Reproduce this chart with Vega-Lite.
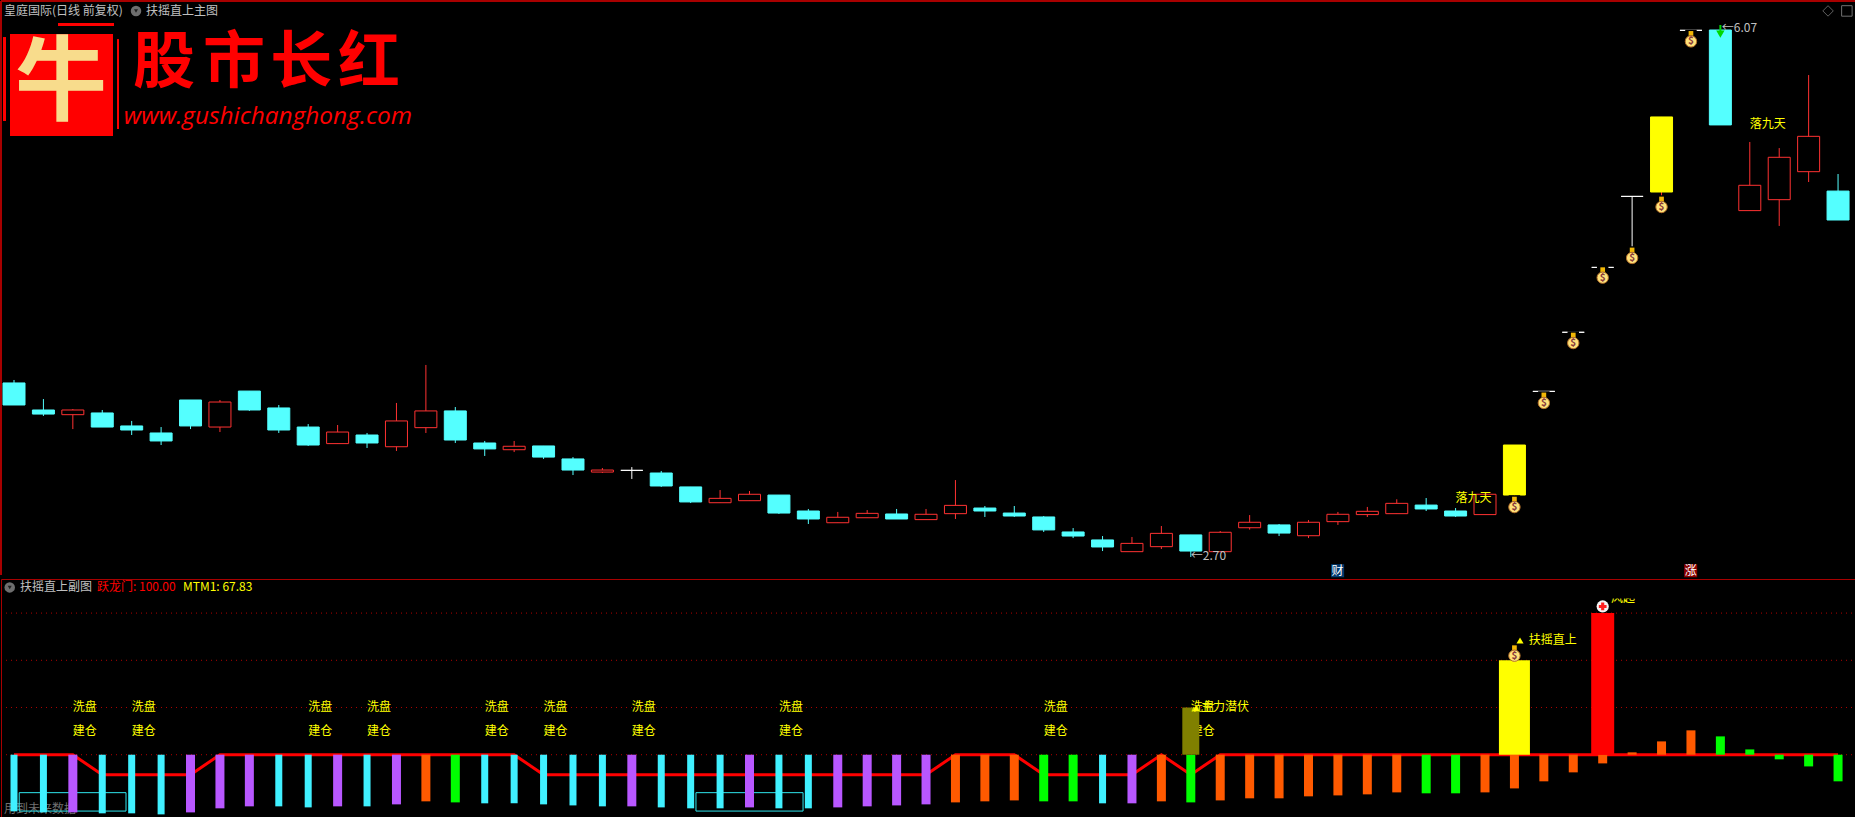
{"$schema":"https://vega.github.io/schema/vega-lite/v6.json","background":"#000000","padding":{"left":0,"right":0,"top":0,"bottom":0},"autosize":{"type":"pad","contains":"padding"},"spacing":0,"config":{"padding":0,"concat":{"spacing":0},"view":{"stroke":"#a80000","strokeWidth":1},"text":{"font":"Noto Sans CJK SC","fontSize":12}},
"datasets":{
"candles":[
{"k":0,"high":3.832,"top":3.813,"bottom":3.672,"low":3.672,"kind":"down"},
{"k":1,"high":3.710,"top":3.640,"bottom":3.614,"low":3.602,"kind":"down"},
{"k":2,"high":3.646,"top":3.640,"bottom":3.610,"low":3.518,"kind":"up"},
{"k":3,"high":3.640,"top":3.621,"bottom":3.531,"low":3.531,"kind":"down"},
{"k":4,"high":3.570,"top":3.538,"bottom":3.512,"low":3.480,"kind":"down"},
{"k":5,"high":3.531,"top":3.493,"bottom":3.442,"low":3.416,"kind":"down"},
{"k":6,"high":3.704,"top":3.704,"bottom":3.538,"low":3.518,"kind":"down"},
{"k":7,"high":3.704,"top":3.691,"bottom":3.531,"low":3.499,"kind":"up"},
{"k":8,"high":3.761,"top":3.761,"bottom":3.640,"low":3.634,"kind":"down"},
{"k":9,"high":3.672,"top":3.653,"bottom":3.512,"low":3.493,"kind":"down"},
{"k":10,"high":3.550,"top":3.531,"bottom":3.416,"low":3.410,"kind":"down"},
{"k":11,"high":3.544,"top":3.499,"bottom":3.425,"low":3.425,"kind":"up"},
{"k":12,"high":3.493,"top":3.480,"bottom":3.429,"low":3.397,"kind":"down"},
{"k":13,"high":3.685,"top":3.570,"bottom":3.405,"low":3.378,"kind":"up"},
{"k":14,"high":3.928,"top":3.634,"bottom":3.527,"low":3.493,"kind":"up"},
{"k":15,"high":3.659,"top":3.634,"bottom":3.448,"low":3.429,"kind":"down"},
{"k":16,"high":3.442,"top":3.429,"bottom":3.391,"low":3.346,"kind":"down"},
{"k":17,"high":3.442,"top":3.408,"bottom":3.386,"low":3.371,"kind":"up"},
{"k":18,"high":3.410,"top":3.410,"bottom":3.339,"low":3.327,"kind":"down"},
{"k":19,"high":3.339,"top":3.327,"bottom":3.256,"low":3.224,"kind":"down"},
{"k":20,"high":3.269,"top":3.256,"bottom":3.243,"low":3.237,"kind":"up"},
{"k":21,"high":3.275,"top":3.254,"bottom":3.254,"low":3.199,"kind":"doji"},
{"k":22,"high":3.250,"top":3.237,"bottom":3.154,"low":3.148,"kind":"down"},
{"k":23,"high":3.148,"top":3.148,"bottom":3.052,"low":3.045,"kind":"down"},
{"k":24,"high":3.128,"top":3.075,"bottom":3.047,"low":3.047,"kind":"up"},
{"k":25,"high":3.122,"top":3.101,"bottom":3.060,"low":3.060,"kind":"up"},
{"k":26,"high":3.096,"top":3.096,"bottom":2.981,"low":2.975,"kind":"down"},
{"k":27,"high":3.007,"top":2.994,"bottom":2.943,"low":2.911,"kind":"down"},
{"k":28,"high":2.988,"top":2.954,"bottom":2.919,"low":2.919,"kind":"up"},
{"k":29,"high":3.000,"top":2.979,"bottom":2.951,"low":2.951,"kind":"up"},
{"k":30,"high":3.007,"top":2.975,"bottom":2.943,"low":2.943,"kind":"down"},
{"k":31,"high":3.007,"top":2.973,"bottom":2.939,"low":2.939,"kind":"up"},
{"k":32,"high":3.192,"top":3.030,"bottom":2.977,"low":2.943,"kind":"up"},
{"k":33,"high":3.026,"top":3.013,"bottom":2.994,"low":2.956,"kind":"down"},
{"k":34,"high":3.026,"top":2.981,"bottom":2.962,"low":2.956,"kind":"down"},
{"k":35,"high":2.962,"top":2.956,"bottom":2.873,"low":2.860,"kind":"down"},
{"k":36,"high":2.885,"top":2.860,"bottom":2.834,"low":2.821,"kind":"down"},
{"k":37,"high":2.834,"top":2.809,"bottom":2.764,"low":2.738,"kind":"down"},
{"k":38,"high":2.828,"top":2.787,"bottom":2.734,"low":2.734,"kind":"up"},
{"k":39,"high":2.898,"top":2.851,"bottom":2.766,"low":2.751,"kind":"up"},
{"k":40,"high":2.841,"top":2.841,"bottom":2.738,"low":2.700,"kind":"down"},
{"k":41,"high":2.866,"top":2.858,"bottom":2.734,"low":2.734,"kind":"up"},
{"k":42,"high":2.968,"top":2.922,"bottom":2.887,"low":2.875,"kind":"up"},
{"k":43,"high":2.911,"top":2.905,"bottom":2.853,"low":2.834,"kind":"down"},
{"k":44,"high":2.936,"top":2.922,"bottom":2.836,"low":2.821,"kind":"up"},
{"k":45,"high":2.988,"top":2.973,"bottom":2.926,"low":2.905,"kind":"up"},
{"k":46,"high":3.020,"top":2.992,"bottom":2.971,"low":2.956,"kind":"up"},
{"k":47,"high":3.069,"top":3.043,"bottom":2.977,"low":2.977,"kind":"up"},
{"k":48,"high":3.077,"top":3.032,"bottom":3.007,"low":2.994,"kind":"down"},
{"k":49,"high":3.013,"top":2.994,"bottom":2.962,"low":2.956,"kind":"down"},
{"k":50,"high":3.101,"top":3.101,"bottom":2.971,"low":2.971,"kind":"up"},
{"k":51,"high":3.416,"top":3.416,"bottom":3.096,"low":3.079,"kind":"limit"},
{"k":52,"high":3.759,"top":3.759,"bottom":3.759,"low":3.759,"kind":"doji"},
{"k":53,"high":4.137,"top":4.137,"bottom":4.137,"low":4.137,"kind":"doji"},
{"k":54,"high":4.552,"top":4.552,"bottom":4.552,"low":4.552,"kind":"doji"},
{"k":55,"high":5.006,"top":5.006,"bottom":5.006,"low":4.667,"kind":"doji"},
{"k":56,"high":5.514,"top":5.514,"bottom":5.034,"low":4.998,"kind":"limit"},
{"k":57,"high":6.068,"top":6.068,"bottom":6.068,"low":6.068,"kind":"doji"},
{"k":58,"high":6.070,"top":6.070,"bottom":5.463,"low":5.463,"kind":"down"},
{"k":59,"high":5.354,"top":5.077,"bottom":4.915,"low":4.915,"kind":"up"},
{"k":60,"high":5.315,"top":5.256,"bottom":4.985,"low":4.817,"kind":"up"},
{"k":61,"high":5.782,"top":5.390,"bottom":5.164,"low":5.098,"kind":"up"},
{"k":62,"high":5.149,"top":5.040,"bottom":4.855,"low":4.855,"kind":"down"}
],
"bagsTop":[{"k":51,"p":3.032},{"k":52,"p":3.698},{"k":53,"p":4.081},{"k":54,"p":4.499},{"k":55,"p":4.625},{"k":56,"p":4.951},{"k":57,"p":6.010}],
"notesTop":[
{"k":-0.34,"p":6.192,"label":"皇庭国际(日线 前复权)","group":"gray"},
{"k":4.487,"p":6.192,"label":"扶摇直上主图","group":"gray"},
{"k":40,"p":2.706,"label":"←2.70","group":"gray"},
{"k":58.05,"p":6.085,"label":"←6.07","group":"gray"},
{"k":49,"p":3.077,"label":"落九天","group":"yellow"},
{"k":59,"p":5.469,"label":"落九天","group":"yellow"}
],
"logoRects":[
{"k":-0.136,"k2":3.365,"p":6.0445,"p2":5.392},
{"k":1.496,"k2":3.399,"p":6.115,"p2":6.096},
{"k":3.5,"k2":3.57,"p":6.012,"p2":5.437},
{"k":-0.374,"k2":-0.272,"p":6.025,"p2":5.488}
],
"logoChars":[{"k":5.1,"p":5.853,"label":"股"},{"k":7.48,"p":5.853,"label":"市"},{"k":9.76,"p":5.853,"label":"长"},{"k":12.07,"p":5.853,"label":"红"}],
"sub":[
{"k":0,"value":-60.0,"group":"cyan","step":0},
{"k":1,"value":-61.1,"group":"cyan","step":0},
{"k":2,"value":-61.1,"group":"purple","step":0},
{"k":3,"value":-62.1,"group":"cyan","step":-21.2},
{"k":4,"value":-62.1,"group":"cyan","step":-21.2},
{"k":5,"value":-63.2,"group":"cyan","step":-21.2},
{"k":6,"value":-61.1,"group":"purple","step":-21.2},
{"k":7,"value":-56.8,"group":"purple","step":0},
{"k":8,"value":-54.7,"group":"purple","step":0},
{"k":9,"value":-54.7,"group":"cyan","step":0},
{"k":10,"value":-55.8,"group":"cyan","step":0},
{"k":11,"value":-54.7,"group":"purple","step":0},
{"k":12,"value":-54.7,"group":"cyan","step":0},
{"k":13,"value":-52.6,"group":"purple","step":0},
{"k":14,"value":-49.4,"group":"orange","step":0},
{"k":15,"value":-50.5,"group":"green","step":0},
{"k":16,"value":-51.5,"group":"cyan","step":0},
{"k":17,"value":-51.5,"group":"cyan","step":0},
{"k":18,"value":-52.6,"group":"cyan","step":-21.2},
{"k":19,"value":-53.7,"group":"cyan","step":-21.2},
{"k":20,"value":-54.7,"group":"cyan","step":-21.2},
{"k":21,"value":-54.7,"group":"purple","step":-21.2},
{"k":22,"value":-55.8,"group":"cyan","step":-21.2},
{"k":23,"value":-56.8,"group":"cyan","step":-21.2},
{"k":24,"value":-56.8,"group":"cyan","step":-21.2},
{"k":25,"value":-55.8,"group":"purple","step":-21.2},
{"k":26,"value":-56.8,"group":"cyan","step":-21.2},
{"k":27,"value":-56.8,"group":"cyan","step":-21.2},
{"k":28,"value":-55.8,"group":"purple","step":-21.2},
{"k":29,"value":-54.7,"group":"purple","step":-21.2},
{"k":30,"value":-53.7,"group":"purple","step":-21.2},
{"k":31,"value":-52.6,"group":"purple","step":-21.2},
{"k":32,"value":-50.5,"group":"orange","step":0},
{"k":33,"value":-49.4,"group":"orange","step":0},
{"k":34,"value":-48.4,"group":"orange","step":0},
{"k":35,"value":-49.4,"group":"green","step":-21.2},
{"k":36,"value":-49.4,"group":"green","step":-21.2},
{"k":37,"value":-51.5,"group":"cyan","step":-21.2},
{"k":38,"value":-51.5,"group":"purple","step":-21.2},
{"k":39,"value":-49.4,"group":"orange","step":0},
{"k":40,"value":-50.5,"group":"green","step":-21.2},
{"k":41,"value":-48.4,"group":"orange","step":0},
{"k":42,"value":-46.2,"group":"orange","step":0},
{"k":43,"value":-46.2,"group":"orange","step":0},
{"k":44,"value":-44.1,"group":"orange","step":0},
{"k":45,"value":-43.1,"group":"orange","step":0},
{"k":46,"value":-42.0,"group":"orange","step":0},
{"k":47,"value":-39.9,"group":"orange","step":0},
{"k":48,"value":-40.9,"group":"green","step":0},
{"k":49,"value":-40.9,"group":"green","step":0},
{"k":50,"value":-39.9,"group":"orange","step":0},
{"k":51,"value":-35.7,"group":"orange","step":0},
{"k":52,"value":-28.2,"group":"orange","step":0},
{"k":53,"value":-18.7,"group":"orange","step":0},
{"k":54,"value":-9.2,"group":"orange","step":0},
{"k":55,"value":2.5,"group":"orange","step":0},
{"k":56,"value":14.1,"group":"orange","step":0},
{"k":57,"value":25.8,"group":"orange","step":0},
{"k":58,"value":19.4,"group":"green","step":0},
{"k":59,"value":5.6,"group":"green","step":0},
{"k":60,"value":-4.9,"group":"green","step":0},
{"k":61,"value":-12.4,"group":"green","step":0},
{"k":62,"value":-28.2,"group":"green","step":0}
],
"signals":[{"k":2},{"k":4},{"k":10},{"k":12},{"k":16},{"k":18},{"k":21},{"k":26},{"k":35},{"k":40}],
"notesSub":[
{"k":0.204,"value":177.2,"label":"扶摇直上副图","group":"gray"},
{"k":2.821,"value":177.2,"label":"跃龙门: 100.00","group":"red"},
{"k":5.745,"value":177.2,"label":"MTM1: 67.83","group":"yellow"},
{"k":40.35,"value":50,"label":"主力潜伏","group":"yellow"},
{"k":51.49,"value":121,"label":"扶摇直上","group":"yellow"},
{"k":54.28,"value":165.5,"label":"风起","group":"yellow"},
{"k":-0.34,"value":-57.5,"label":"用到未来数据","group":"dim"}
],
"boxes":[{"k":0.177,"k2":3.807,"v":-40.2,"v2":-59.7},{"k":23.18,"k2":26.82,"v":-40.2,"v2":-59.7}]
},
"vconcat":[
{"width":1855,"height":574,"view":{"stroke":null},
"encoding":{"x":{"field":"k","type":"quantitative","axis":null,"scale":{"domain":[-0.4419,62.61],"nice":false,"zero":false,"padding":0}}},
"layer":[
{"data":{"values":[{"edge":6.2555}]},"mark":{"type":"rule","stroke":"#a80000","strokeWidth":2},"encoding":{"x":{"value":0},"x2":{"value":1855},"y":{"field":"edge","type":"quantitative","axis":null,"scale":{"domain":[2.5848,6.2555],"nice":false,"zero":false}}}},
{"data":{"values":[{"edge":-0.4419},{"edge":62.61}]},"mark":{"type":"rule","stroke":"#a80000","strokeWidth":2},"encoding":{"x":{"field":"edge","type":"quantitative"},"y":{"value":0},"y2":{"value":574}}},
{"data":{"name":"logoRects"},"mark":{"type":"rect","color":"#ff0000"},"encoding":{"x":{"field":"k","type":"quantitative"},"x2":{"field":"k2"},"y":{"field":"p","type":"quantitative","axis":null,"scale":{"domain":[2.5848,6.2555],"nice":false,"zero":false}},"y2":{"field":"p2"}}},
{"data":{"values":[{"k":1.6,"p":5.718,"label":"牛"}]},"mark":{"type":"text","fontSize":92,"fontWeight":"bold","color":"#f8dc8c","align":"center","baseline":"middle"},"encoding":{"y":{"field":"p","type":"quantitative","axis":null,"scale":{"domain":[2.5848,6.2555],"nice":false,"zero":false}},"text":{"field":"label"}}},
{"data":{"name":"logoChars"},"mark":{"type":"text","fontSize":62,"fontWeight":"bold","color":"#ff0000","align":"center","baseline":"middle"},"encoding":{"y":{"field":"p","type":"quantitative","axis":null,"scale":{"domain":[2.5848,6.2555],"nice":false,"zero":false}},"text":{"field":"label"}}},
{"data":{"values":[{"k":8.63,"p":5.514,"label":"www.gushichanghong.com"}]},"mark":{"type":"text","font":"Open Sans","fontStyle":"italic","fontSize":24.4,"color":"#ff0000","align":"center","baseline":"middle"},"encoding":{"y":{"field":"p","type":"quantitative","axis":null,"scale":{"domain":[2.5848,6.2555],"nice":false,"zero":false}},"text":{"field":"label"}}},
{"data":{"name":"candles"},"mark":{"type":"rule","strokeWidth":1},"encoding":{"y":{"field":"high","type":"quantitative","axis":null,"scale":{"domain":[2.5848,6.2555],"nice":false,"zero":false}},"y2":{"field":"low"},"color":{"field":"kind","type":"nominal","legend":null,"scale":{"domain":["up","down","limit","doji"],"range":["#ff3232","#54ffff","#ff3232","#ffffff"]}}}},
{"data":{"name":"candles"},"mark":{"type":"bar","orient":"vertical","size":22,"strokeWidth":1},"encoding":{"y":{"field":"top","type":"quantitative","axis":null,"stack":null,"scale":{"domain":[2.5848,6.2555],"nice":false,"zero":false}},"y2":{"field":"bottom"},"fill":{"field":"kind","type":"nominal","legend":null,"scale":{"domain":["up","down","limit","doji"],"range":["#000000","#54ffff","#ffff00","#ffffff"]}},"stroke":{"field":"kind","type":"nominal","legend":null,"scale":{"domain":["up","down","limit","doji"],"range":["#ff3232","#54ffff","#ffff00","#ffffff"]}}}},
{"data":{"name":"bagsTop"},"mark":{"type":"point","filled":true,"shape":"square","size":90,"yOffset":-4,"fill":"#000000","stroke":"#000000","opacity":1},"encoding":{"y":{"field":"p","type":"quantitative","axis":null,"scale":{"domain":[2.5848,6.2555],"nice":false,"zero":false}}}},
{"data":{"name":"bagsTop"},"mark":{"type":"point","filled":true,"shape":"square","size":22,"yOffset":-6,"fill":"#f2b705","opacity":1},"encoding":{"y":{"field":"p","type":"quantitative","axis":null,"scale":{"domain":[2.5848,6.2555],"nice":false,"zero":false}}}},
{"data":{"name":"bagsTop"},"mark":{"type":"point","filled":true,"shape":"circle","size":130,"yOffset":2,"fill":"#ffe27a","stroke":"#b5702a","strokeWidth":1,"opacity":1},"encoding":{"y":{"field":"p","type":"quantitative","axis":null,"scale":{"domain":[2.5848,6.2555],"nice":false,"zero":false}}}},
{"data":{"name":"bagsTop"},"mark":{"type":"text","text":"$","fontSize":10,"fontWeight":"bold","fill":"#8a3a3a","align":"center","baseline":"middle","dy":2},"encoding":{"y":{"field":"p","type":"quantitative","axis":null,"scale":{"domain":[2.5848,6.2555],"nice":false,"zero":false}}}},
{"data":{"values":[{"k":58,"p":6.102,"p2":6.05}]},"mark":{"type":"rule","stroke":"#00d800","strokeWidth":2},"encoding":{"y":{"field":"p","type":"quantitative","axis":null,"scale":{"domain":[2.5848,6.2555],"nice":false,"zero":false}},"y2":{"field":"p2"}}},
{"data":{"values":[{"k":58,"p":6.044}]},"mark":{"type":"point","filled":true,"shape":"triangle-down","size":70,"fill":"#00d800","opacity":1},"encoding":{"y":{"field":"p","type":"quantitative","axis":null,"scale":{"domain":[2.5848,6.2555],"nice":false,"zero":false}}}},
{"data":{"name":"notesTop"},"transform":[{"filter":"datum.group=='gray'"}],"mark":{"type":"text","align":"left","baseline":"middle","fill":"#c0c0c0"},"encoding":{"y":{"field":"p","type":"quantitative","axis":null,"scale":{"domain":[2.5848,6.2555],"nice":false,"zero":false}},"text":{"field":"label"}}},
{"data":{"name":"notesTop"},"transform":[{"filter":"datum.group=='yellow'"}],"mark":{"type":"text","align":"left","baseline":"middle","fill":"#ffff00"},"encoding":{"y":{"field":"p","type":"quantitative","axis":null,"scale":{"domain":[2.5848,6.2555],"nice":false,"zero":false}},"text":{"field":"label"}}},
{"data":{"values":[{"k":4.147,"p":6.192}]},"mark":{"type":"point","filled":true,"shape":"circle","size":110,"fill":"#6e6e6e","opacity":1},"encoding":{"y":{"field":"p","type":"quantitative","axis":null,"scale":{"domain":[2.5848,6.2555],"nice":false,"zero":false}}}},
{"data":{"values":[{"k":4.147,"p":6.192}]},"mark":{"type":"point","filled":true,"shape":"triangle-down","size":16,"fill":"#202020","opacity":1},"encoding":{"y":{"field":"p","type":"quantitative","axis":null,"scale":{"domain":[2.5848,6.2555],"nice":false,"zero":false}}}},
{"data":{"values":[{"k":61.66,"p":6.192}]},"mark":{"type":"point","shape":"diamond","size":110,"stroke":"#606060","strokeWidth":1,"opacity":1},"encoding":{"y":{"field":"p","type":"quantitative","axis":null,"scale":{"domain":[2.5848,6.2555],"nice":false,"zero":false}}}},
{"data":{"values":[{"k":62.3,"p":6.192}]},"mark":{"type":"point","shape":"square","size":110,"stroke":"#707070","strokeWidth":1,"opacity":1},"encoding":{"y":{"field":"p","type":"quantitative","axis":null,"scale":{"domain":[2.5848,6.2555],"nice":false,"zero":false}}}},
{"data":{"values":[{"k":44.99,"p":2.612}]},"mark":{"type":"point","filled":true,"shape":"square","size":170,"fill":"#003a70","opacity":1},"encoding":{"y":{"field":"p","type":"quantitative","axis":null,"scale":{"domain":[2.5848,6.2555],"nice":false,"zero":false}}}},
{"data":{"values":[{"k":56.99,"p":2.612}]},"mark":{"type":"point","filled":true,"shape":"square","size":170,"fill":"#8a0000","opacity":1},"encoding":{"y":{"field":"p","type":"quantitative","axis":null,"scale":{"domain":[2.5848,6.2555],"nice":false,"zero":false}}}},
{"data":{"values":[{"k":44.99,"p":2.612,"label":"财"},{"k":56.99,"p":2.612,"label":"涨"}]},"mark":{"type":"text","fill":"#ffffff","align":"center","baseline":"middle"},"encoding":{"y":{"field":"p","type":"quantitative","axis":null,"scale":{"domain":[2.5848,6.2555],"nice":false,"zero":false}},"text":{"field":"label"}}}
]},
{"width":1855,"height":240,
"encoding":{"x":{"field":"k","type":"quantitative","axis":null,"scale":{"domain":[-0.4419,62.61],"nice":false,"zero":false,"padding":0}}},
"layer":[
{"data":{"values":[{"level":0},{"level":50},{"level":100},{"level":150}]},"mark":{"type":"rule","stroke":"#b00000","strokeDash":[1,4],"strokeWidth":1},"encoding":{"x":{"value":0},"x2":{"value":1855},"y":{"field":"level","type":"quantitative","axis":null,"scale":{"domain":[-68.1,186.1],"nice":false,"zero":false}}}},
{"data":{"name":"notesSub"},"transform":[{"filter":"datum.group=='dim'"}],"mark":{"type":"text","align":"left","baseline":"middle","fill":"#707070"},"encoding":{"y":{"field":"value","type":"quantitative","axis":null,"scale":{"domain":[-68.1,186.1],"nice":false,"zero":false}},"text":{"field":"label"}}},
{"data":{"name":"boxes"},"mark":{"type":"rect","fillOpacity":0,"stroke":"#2fe6ee","strokeWidth":1},"encoding":{"x":{"field":"k","type":"quantitative"},"x2":{"field":"k2"},"y":{"field":"v","type":"quantitative","axis":null,"scale":{"domain":[-68.1,186.1],"nice":false,"zero":false}},"y2":{"field":"v2"}}},
{"data":{"name":"sub"},"mark":{"type":"line","stroke":"#ff0000","strokeWidth":3},"encoding":{"y":{"field":"step","type":"quantitative","axis":null,"scale":{"domain":[-68.1,186.1],"nice":false,"zero":false}}}},
{"data":{"name":"signals"},"mark":{"type":"text","text":"建仓","align":"left","baseline":"middle","fill":"#ffff00"},"encoding":{"y":{"datum":25.4,"type":"quantitative","axis":null,"scale":{"domain":[-68.1,186.1],"nice":false,"zero":false}}}},
{"data":{"name":"sub"},"transform":[{"filter":"datum.group=='cyan'"}],"mark":{"type":"bar","orient":"vertical","size":7,"fill":"#40f0ff"},"encoding":{"y":{"field":"value","type":"quantitative","axis":null,"stack":null,"scale":{"domain":[-68.1,186.1],"nice":false,"zero":false}},"y2":{"datum":0}}},
{"data":{"name":"sub"},"transform":[{"filter":"datum.group=='purple'"}],"mark":{"type":"bar","orient":"vertical","size":9,"fill":"#b857ff"},"encoding":{"y":{"field":"value","type":"quantitative","axis":null,"stack":null,"scale":{"domain":[-68.1,186.1],"nice":false,"zero":false}},"y2":{"datum":0}}},
{"data":{"name":"sub"},"transform":[{"filter":"datum.group=='orange'"}],"mark":{"type":"bar","orient":"vertical","size":9,"fill":"#ff5a00"},"encoding":{"y":{"field":"value","type":"quantitative","axis":null,"stack":null,"scale":{"domain":[-68.1,186.1],"nice":false,"zero":false}},"y2":{"datum":0}}},
{"data":{"name":"sub"},"transform":[{"filter":"datum.group=='green'"}],"mark":{"type":"bar","orient":"vertical","size":9,"fill":"#00ff00"},"encoding":{"y":{"field":"value","type":"quantitative","axis":null,"stack":null,"scale":{"domain":[-68.1,186.1],"nice":false,"zero":false}},"y2":{"datum":0}}},
{"data":{"values":[{"k":40,"value":50}]},"mark":{"type":"bar","orient":"vertical","size":17,"fill":"#808000"},"encoding":{"y":{"field":"value","type":"quantitative","axis":null,"stack":null,"scale":{"domain":[-68.1,186.1],"nice":false,"zero":false}},"y2":{"datum":0}}},
{"data":{"values":[{"k":51,"value":100}]},"mark":{"type":"bar","orient":"vertical","size":31,"fill":"#ffff00"},"encoding":{"y":{"field":"value","type":"quantitative","axis":null,"stack":null,"scale":{"domain":[-68.1,186.1],"nice":false,"zero":false}},"y2":{"datum":0}}},
{"data":{"values":[{"k":54,"value":150}]},"mark":{"type":"bar","orient":"vertical","size":23,"fill":"#ff0000"},"encoding":{"y":{"field":"value","type":"quantitative","axis":null,"stack":null,"scale":{"domain":[-68.1,186.1],"nice":false,"zero":false}},"y2":{"datum":0}}},
{"data":{"name":"signals"},"mark":{"type":"text","text":"洗盘","align":"left","baseline":"middle","fill":"#ffff00"},"encoding":{"y":{"datum":50,"type":"quantitative","axis":null,"scale":{"domain":[-68.1,186.1],"nice":false,"zero":false}}}},
{"data":{"name":"notesSub"},"transform":[{"filter":"datum.group=='gray'"}],"mark":{"type":"text","align":"left","baseline":"middle","fill":"#c0c0c0"},"encoding":{"y":{"field":"value","type":"quantitative","axis":null,"scale":{"domain":[-68.1,186.1],"nice":false,"zero":false}},"text":{"field":"label"}}},
{"data":{"name":"notesSub"},"transform":[{"filter":"datum.group=='red'"}],"mark":{"type":"text","align":"left","baseline":"middle","fill":"#ff0000"},"encoding":{"y":{"field":"value","type":"quantitative","axis":null,"scale":{"domain":[-68.1,186.1],"nice":false,"zero":false}},"text":{"field":"label"}}},
{"data":{"name":"notesSub"},"transform":[{"filter":"datum.group=='yellow'"}],"mark":{"type":"text","align":"left","baseline":"middle","fill":"#ffff00"},"encoding":{"y":{"field":"value","type":"quantitative","axis":null,"scale":{"domain":[-68.1,186.1],"nice":false,"zero":false}},"text":{"field":"label"}}},
{"data":{"values":[{"k":54.2,"k2":55.4,"v":176,"v2":165.5}]},"mark":{"type":"rect","fill":"#000000"},"encoding":{"x":{"field":"k","type":"quantitative"},"x2":{"field":"k2"},"y":{"field":"v","type":"quantitative","axis":null,"scale":{"domain":[-68.1,186.1],"nice":false,"zero":false}},"y2":{"field":"v2"}}},
{"data":{"values":[{"k":40.18,"value":49.4},{"k":51.19,"value":121}]},"mark":{"type":"point","filled":true,"shape":"triangle-up","size":50,"fill":"#ffff00","opacity":1},"encoding":{"y":{"field":"value","type":"quantitative","axis":null,"scale":{"domain":[-68.1,186.1],"nice":false,"zero":false}}}},
{"data":{"values":[{"k":51,"value":107}]},"mark":{"type":"point","filled":true,"shape":"square","size":22,"yOffset":-6,"fill":"#f2b705","opacity":1},"encoding":{"y":{"field":"value","type":"quantitative","axis":null,"scale":{"domain":[-68.1,186.1],"nice":false,"zero":false}}}},
{"data":{"values":[{"k":51,"value":107}]},"mark":{"type":"point","filled":true,"shape":"circle","size":130,"yOffset":2,"fill":"#ffe27a","stroke":"#b5702a","strokeWidth":1,"opacity":1},"encoding":{"y":{"field":"value","type":"quantitative","axis":null,"scale":{"domain":[-68.1,186.1],"nice":false,"zero":false}}}},
{"data":{"values":[{"k":51,"value":107}]},"mark":{"type":"text","text":"$","fontSize":10,"fontWeight":"bold","fill":"#8a3a3a","align":"center","baseline":"middle","dy":2},"encoding":{"y":{"field":"value","type":"quantitative","axis":null,"scale":{"domain":[-68.1,186.1],"nice":false,"zero":false}}}},
{"data":{"values":[{"k":54,"value":157}]},"mark":{"type":"point","filled":true,"shape":"circle","size":150,"fill":"#f4f4f4","opacity":1},"encoding":{"y":{"field":"value","type":"quantitative","axis":null,"scale":{"domain":[-68.1,186.1],"nice":false,"zero":false}}}},
{"data":{"values":[{"k":54,"value":157}]},"mark":{"type":"point","filled":true,"shape":"cross","size":60,"fill":"#ff2020","opacity":1},"encoding":{"y":{"field":"value","type":"quantitative","axis":null,"scale":{"domain":[-68.1,186.1],"nice":false,"zero":false}}}},
{"data":{"values":[{"k":-0.146,"value":177.2}]},"mark":{"type":"point","filled":true,"shape":"circle","size":110,"fill":"#6e6e6e","opacity":1},"encoding":{"y":{"field":"value","type":"quantitative","axis":null,"scale":{"domain":[-68.1,186.1],"nice":false,"zero":false}}}},
{"data":{"values":[{"k":-0.146,"value":177.2}]},"mark":{"type":"point","filled":true,"shape":"triangle-down","size":16,"fill":"#202020","opacity":1},"encoding":{"y":{"field":"value","type":"quantitative","axis":null,"scale":{"domain":[-68.1,186.1],"nice":false,"zero":false}}}}
]}
]}
